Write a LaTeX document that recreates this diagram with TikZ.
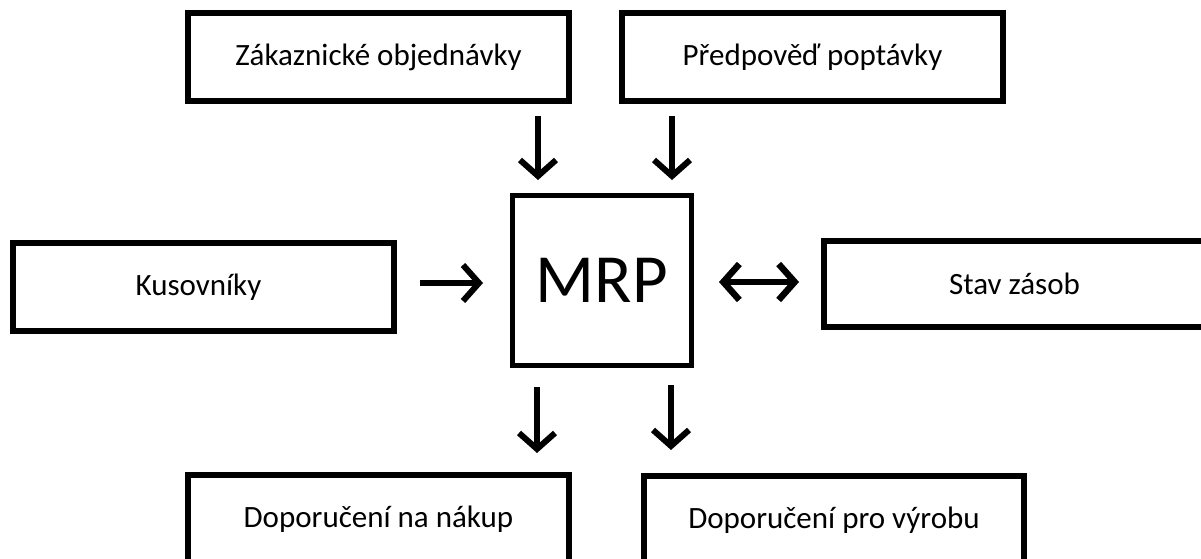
\documentclass[tikz,border=0pt]{standalone}
\usepackage{fontspec}
\setmainfont{Carlito}
\usetikzlibrary{arrows.meta}
\tikzset{
  box/.style={draw=black, line width=6pt, minimum width=381pt, minimum height=88pt,
    inner sep=0pt, font=\fontsize{31}{36}\selectfont},
  core/.style={draw=black, line width=5pt, minimum width=179pt, minimum height=170pt,
    inner sep=0pt, font=\fontsize{69}{80}\selectfont},
  flow/.style={line width=6pt, -{Straight Barb[length=16pt, width=36pt, line width=6pt]}},
  twoway/.style={line width=6.5pt, {Straight Barb[length=16pt, width=36pt, line width=6.5pt]}-{Straight Barb[length=16pt, width=36pt, line width=6.5pt]}}
}
\begin{document}
\begin{tikzpicture}[x=1pt, y=-1pt]
  \useasboundingbox (0,0) rectangle (1201,559);

  % central planning block
  \node[core] (mrp) at (602,280.5) {MRP};

  % inputs
  \node[box] (orders)   at (378.5,57) {Zákaznické objednávky};
  \node[box] (forecast) at (812.5,57) {Předpověď poptávky};
  \node[box, minimum height=88.5pt] (bom) at (203.5,287) {\hspace*{-10pt}Kusovníky};
  \node[box, minimum height=86pt] (stock) at (1014.5,283.5) {Stav zásob};

  % outputs
  \node[box] (purchase)   at (378.5,519) {Doporučení na nákup};
  \node[box, minimum width=380pt] (production) at (834,520) {Doporučení pro výrobu};

  % arrow columns and rows
  \coordinate (inL)  at (538,0);
  \coordinate (inR)  at (672,0);
  \coordinate (outL) at (537,0);
  \coordinate (outR) at (671,0);
  \coordinate (rowB) at (0,283);
  \coordinate (rowS) at (0,282);

  \draw[flow, shorten <=12pt, shorten >=13pt] (orders.south -| inL) -- (mrp.north -| inL);
  \draw[flow, shorten <=12pt, shorten >=13pt] (forecast.south -| inR) -- (mrp.north -| inR);
  \draw[flow, shorten <=23pt, shorten >=27pt] (bom.east |- rowB) -- (mrp.west |- rowB);
  \draw[twoway, shorten <=25pt, shorten >=22pt] (mrp.east |- rowS) -- (stock.west |- rowS);
  \draw[flow, shorten <=19pt, shorten >=19pt] (mrp.south -| outL) -- (purchase.north -| outL);
  \draw[flow, shorten <=17pt, shorten >=23pt] (mrp.south -| outR) -- (production.north -| outR);
\end{tikzpicture}
\end{document}
